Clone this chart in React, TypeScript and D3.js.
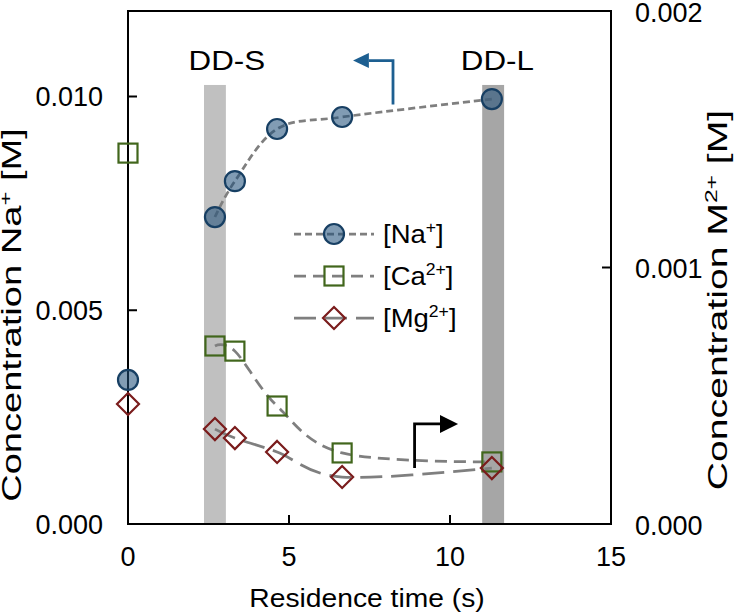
import React from "react";
import * as d3 from "d3";

// ---- data ----
const timeNa = [2.7, 3.32, 4.63, 6.65, 11.3];
const naValues = [0.00718, 0.00802, 0.00924, 0.00952, 0.00994];
const naFeed = 0.00337;

const timeM = [2.7, 3.32, 4.63, 6.65, 11.3];
const caValues = [0.000694, 0.000674, 0.00046, 0.000277, 0.000242];
const caFeed = 0.001446;
const mgValues = [0.00037, 0.000335, 0.000281, 0.000183, 0.000218];
const mgFeed = 0.000468;

const xTicks = [0, 5, 10, 15];
const leftTicks = [0, 0.005, 0.01];
const leftTickLabels = ["0.000", "0.005", "0.010"];
const rightTicks = [0, 0.001, 0.002];
const rightTickLabels = ["0.000", "0.001", "0.002"];

// shaded regions (x range in s, top in left-axis units)
const bandNames = ["DD-S", "DD-L"];
const bandStart = [2.36, 11.0];
const bandEnd = [3.04, 11.68];
const bandTop = 0.01027;
const bandLabelX = [3.07, 11.47];
const bandLabelY = 0.01062;

// arrows (data coords)
const naArrow = { x: 8.23, y0: 0.00981, y1: 0.01084, xEnd: 7.48, xTip: 6.99 };
const mArrow = { x: 8.9, y0: 0.000218, y1: 0.00039, xEnd: 9.69, xTip: 10.25 };

const W = 736, H = 613;
const L = 128, R = 611, T = 11, B = 524;
const FONT = "'Liberation Sans', Arial, Helvetica, sans-serif";

const x = d3.scaleLinear().domain([0, 15]).range([L, R]);
const yL = d3.scaleLinear().domain([0, 0.012]).range([B, T]);
const yR = d3.scaleLinear().domain([0, 0.002]).range([B, T]);

const curve = d3.curveCardinal.tension(0);
const naLine = d3.line<number>().x((_, i) => x(timeNa[i])).y((d) => yL(d)).curve(curve);
const caLine = d3.line<number>().x((_, i) => x(timeM[i])).y((d) => yR(d)).curve(curve);
const mgLine = d3.line<number>().x((_, i) => x(timeM[i])).y((d) => yR(d)).curve(curve);

const LINE = "#7f7f7f";
const LW = 2.75;
const NA_DASH = "7,4";
const CA_DASH = "12,7";
const MG_DASH = "22,9";
const NA_FILL = "#1f4e79";
const NA_STROKE = "#173f63";
const CA_COLOR = "#41661c";
const MG_COLOR = "#7a1c1c";

function Circle({ cx, cy }: { cx: number; cy: number }) {
  return <circle cx={cx} cy={cy} r={10} fill={NA_FILL} fillOpacity={0.56} stroke={NA_STROKE} strokeWidth={2.2} />;
}
function Square({ cx, cy }: { cx: number; cy: number }) {
  const s = 19;
  return <rect x={cx - s / 2} y={cy - s / 2} width={s} height={s} fill="none" stroke={CA_COLOR} strokeWidth={2.2} />;
}
function Diamond({ cx, cy }: { cx: number; cy: number }) {
  const h = 11;
  return (
    <path
      d={`M${cx},${cy - h}L${cx + h},${cy}L${cx},${cy + h}L${cx - h},${cy}Z`}
      fill="none"
      stroke={MG_COLOR}
      strokeWidth={2.2}
    />
  );
}

const legendItems = [
  { base: "[Na", sup: "+", dash: NA_DASH, marker: "c" },
  { base: "[Ca", sup: "2+", dash: CA_DASH, marker: "s" },
  { base: "[Mg", sup: "2+", dash: MG_DASH, marker: "d" },
];

export default function App() {
  const legX0 = 294, legX1 = 374, legMid = 334, legText = 383;
  const legY = [234, 276, 318];

  return (
    <svg width={W} height={H} style={{ position: "absolute", left: 0, top: 0, background: "#fff" }} fontFamily={FONT}>
      {/* bands */}
      {bandNames.map((n, i) => (
        <rect
          key={n}
          x={x(bandStart[i])}
          y={yL(bandTop)}
          width={x(bandEnd[i]) - x(bandStart[i])}
          height={B - yL(bandTop)}
          fill={i === 0 ? "#c0c0c0" : "#a6a6a6"}
        />
      ))}
      {bandNames.map((n, i) => (
        <text
          key={"l" + n}
          transform={`translate(${x(bandLabelX[i])},${yL(bandLabelY)}) scale(1.12,1)`}
          textAnchor="middle"
          fontSize={28}
          fill="#000"
        >
          {n}
        </text>
      ))}

      {/* lines */}
      <path d={naLine(naValues) || ""} fill="none" stroke={LINE} strokeWidth={LW} strokeDasharray={NA_DASH} />
      <path d={caLine(caValues) || ""} fill="none" stroke={LINE} strokeWidth={LW} strokeDasharray={CA_DASH} />
      <path d={mgLine(mgValues) || ""} fill="none" stroke={LINE} strokeWidth={LW} strokeDasharray={MG_DASH} />

      {/* axes box */}
      <rect x={L} y={T} width={R - L} height={B - T} fill="none" stroke="#000" strokeWidth={2} />
      {xTicks.map((t) => (
        <g key={"xt" + t}>
          <line x1={x(t)} x2={x(t)} y1={B} y2={B - 9} stroke="#000" strokeWidth={2} />
          <text x={x(t)} y={B + 42} textAnchor="middle" fontSize={27}>
            {t}
          </text>
        </g>
      ))}
      {leftTicks.map((t, i) => (
        <g key={"yl" + t}>
          <line x1={L} x2={L + 9} y1={yL(t)} y2={yL(t)} stroke="#000" strokeWidth={2} />
          <text x={103} y={yL(t) + 9.5} textAnchor="end" fontSize={27}>
            {leftTickLabels[i]}
          </text>
        </g>
      ))}
      {rightTicks.map((t, i) => (
        <g key={"yr" + t}>
          <line x1={R} x2={R - 9} y1={yR(t)} y2={yR(t)} stroke="#000" strokeWidth={2} />
          <text x={635} y={yR(t) + 10.5} textAnchor="start" fontSize={27}>
            {rightTickLabels[i]}
          </text>
        </g>
      ))}

      {/* markers */}
      <Circle cx={x(0)} cy={yL(naFeed)} />
      {naValues.map((v, i) => (
        <Circle key={"na" + i} cx={x(timeNa[i])} cy={yL(v)} />
      ))}
      <Square cx={x(0)} cy={yR(caFeed)} />
      {caValues.map((v, i) => (
        <Square key={"ca" + i} cx={x(timeM[i])} cy={yR(v)} />
      ))}
      <Diamond cx={x(0)} cy={yR(mgFeed)} />
      {mgValues.map((v, i) => (
        <Diamond key={"mg" + i} cx={x(timeM[i])} cy={yR(v)} />
      ))}

      {/* arrows */}
      <path
        d={`M${x(naArrow.x)},${yL(naArrow.y0)}V${yL(naArrow.y1)}H${x(naArrow.xEnd)}`}
        fill="none"
        stroke="#1d5f91"
        strokeWidth={2.8}
      />
      <path
        d={`M${x(naArrow.xTip)},${yL(naArrow.y1)}L${x(naArrow.xEnd)},${yL(naArrow.y1) - 7.5}L${x(naArrow.xEnd)},${yL(naArrow.y1) + 7.5}Z`}
        fill="#1d5f91"
      />
      <path
        d={`M${x(mArrow.x)},${yR(mArrow.y0)}V${yR(mArrow.y1)}H${x(mArrow.xEnd)}`}
        fill="none"
        stroke="#000"
        strokeWidth={2.8}
      />
      <path
        d={`M${x(mArrow.xTip)},${yR(mArrow.y1)}L${x(mArrow.xEnd)},${yR(mArrow.y1) - 9}L${x(mArrow.xEnd)},${yR(mArrow.y1) + 9}Z`}
        fill="#000"
      />

      {/* legend */}
      {legendItems.map((it, i) => (
        <g key={"lg" + i}>
          <line x1={legX0} x2={legX1} y1={legY[i]} y2={legY[i]} stroke={LINE} strokeWidth={LW} strokeDasharray={it.dash} />
          {it.marker === "c" && <Circle cx={legMid} cy={legY[i]} />}
          {it.marker === "s" && <Square cx={legMid} cy={legY[i]} />}
          {it.marker === "d" && <Diamond cx={legMid} cy={legY[i]} />}
          <text transform={`translate(${legText},${legY[i] + 9}) scale(1.1,1)`} fontSize={25}>
            {it.base}
            <tspan fontSize={16} dy={-10}>
              {it.sup}
            </tspan>
            <tspan dy={10}>]</tspan>
          </text>
        </g>
      ))}

      {/* axis titles */}
      <text transform={`translate(367,607) scale(1.13,1)`} textAnchor="middle" fontSize={25}>
        Residence time (s)
      </text>
      <text transform={`translate(21,315) rotate(-90) scale(1.41,1)`} textAnchor="middle" fontSize={27}>
        Concentration Na
        <tspan fontSize={17} dy={-10}>
          +
        </tspan>
        <tspan dy={10}> [M]</tspan>
      </text>
      <text transform={`translate(727,300) rotate(-90) scale(1.45,1)`} textAnchor="middle" fontSize={27}>
        Concentration M
        <tspan fontSize={17} dy={-10}>
          2+
        </tspan>
        <tspan dy={10}> [M]</tspan>
      </text>
    </svg>
  );
}
